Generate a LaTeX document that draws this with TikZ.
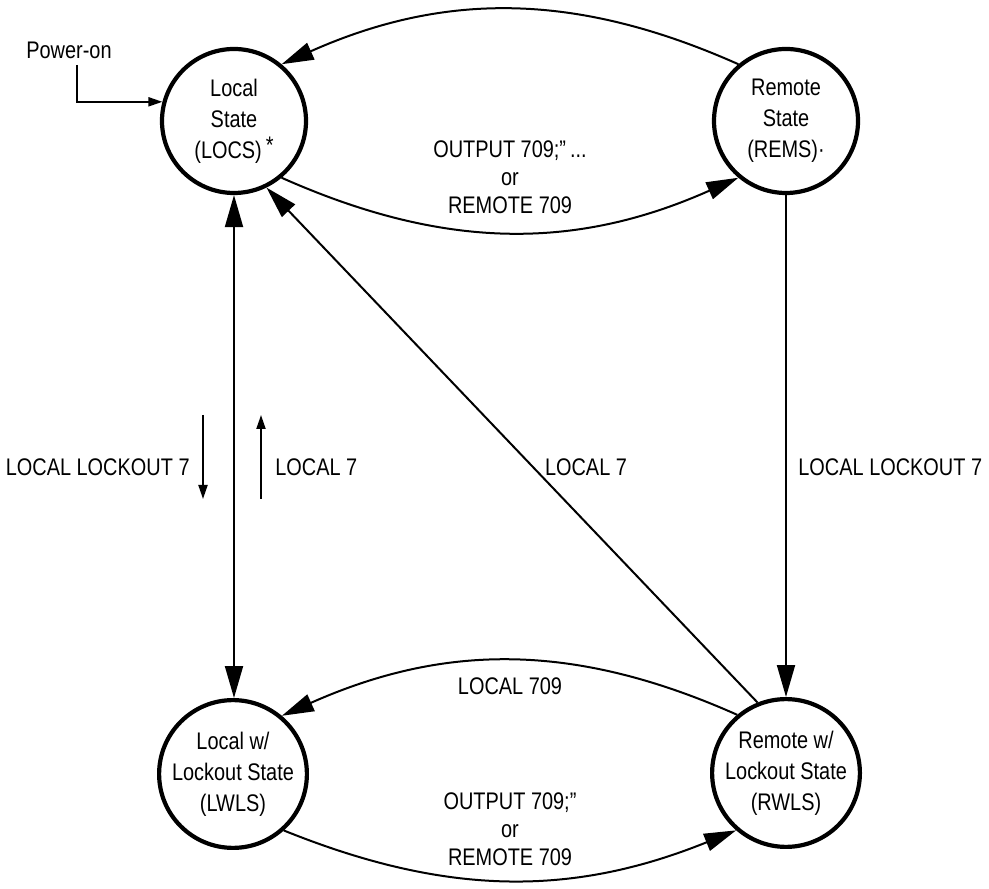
\documentclass[tikz,border=0pt]{standalone}
\usepackage{fontspec}
\setmainfont{Liberation Sans}[FakeStretch=0.83]
\usepackage{tikz}
\usetikzlibrary{arrows.meta}
\tikzset{
	state/.style={circle, draw, line width=2.1pt, minimum size=72pt, inner sep=0pt, align=center, font=\fontsize{12}{15.5}\selectfont},
	edge/.style={line width=1pt, -{Triangle[length=16pt,width=9pt]}},
	hint/.style={line width=1pt, -{Triangle[length=7pt,width=4.5pt]}},
	lbl/.style={align=center, inner sep=0pt, font=\fontsize{12}{14}\selectfont}
}

\begin{document}
\begin{tikzpicture}[x=0.5pt,y=0.5pt]
	\useasboundingbox (0,0) rectangle (989,888);
	% the four states
	\node[state] (locs) at (234,767) {Local\\State\\(LOCS)\,\raisebox{0.35ex}{*}};
	\node[state] (rems) at (786,767) {Remote\\State\\(REMS)·};
	\node[state] (lwls) at (233,114) {Local w/\\Lockout State\\(LWLS)};
	\node[state] (rwls) at (786,115) {Remote w/\\Lockout State\\(RWLS)};

	% power-on entry
	\node[lbl] (power) at (69,838) {Power-on};
	\draw [hint] ([xshift=4pt,yshift=-3pt]power.south) |- (locs.165);

	% upper pair of arcs
	\draw [edge] (rems.130) to [out=156,in=24] (locs.50);
	\draw [edge] (locs.-50) to [out=-24,in=-156] (rems.230);
	\node[lbl] (outrem) at (510,711) {OUTPUT 709;”\,...\\or\\REMOTE 709};

	% LOCS <-> LWLS
	\draw [line width=1pt, {Triangle[length=16pt,width=9pt]}-{Triangle[length=16pt,width=9pt]}] (locs.south) -- (lwls.north -| locs.south);
	\coordinate (lockdown) at (203,473);
	\coordinate (lockup) at (261,389);
	\draw [hint] (lockdown) -- ++(0,-84);
	\draw [hint] (lockup) -- ++(0,84);
	\node[lbl, anchor=east] (lockout) at (190,421) {LOCAL LOCKOUT 7};
	\node[lbl, anchor=west] (local) at (275,421) {LOCAL 7};

	% RWLS back to LOCS
	\draw [edge] (rwls.112) -- (locs.-64);
	\node[lbl] (localdiag) at (586,421) {LOCAL 7};

	% REMS -> RWLS
	\draw [edge] (rems.south) -- (rwls.north);
	\node[lbl, anchor=west] (lockoutr) at (798,421) {LOCAL LOCKOUT 7};

	% lower pair of arcs
	\draw [edge] (rwls.130) to [out=156,in=24] (lwls.50);
	\node[lbl] (loc709) at (510,202) {LOCAL 709};
	\draw [edge] (lwls.-48) to [out=-22,in=-158] (rwls.229);
	\node[lbl] (outrem2) at (510,59) {OUTPUT 709;”\\or\\REMOTE 709};
\end{tikzpicture}
\end{document}
